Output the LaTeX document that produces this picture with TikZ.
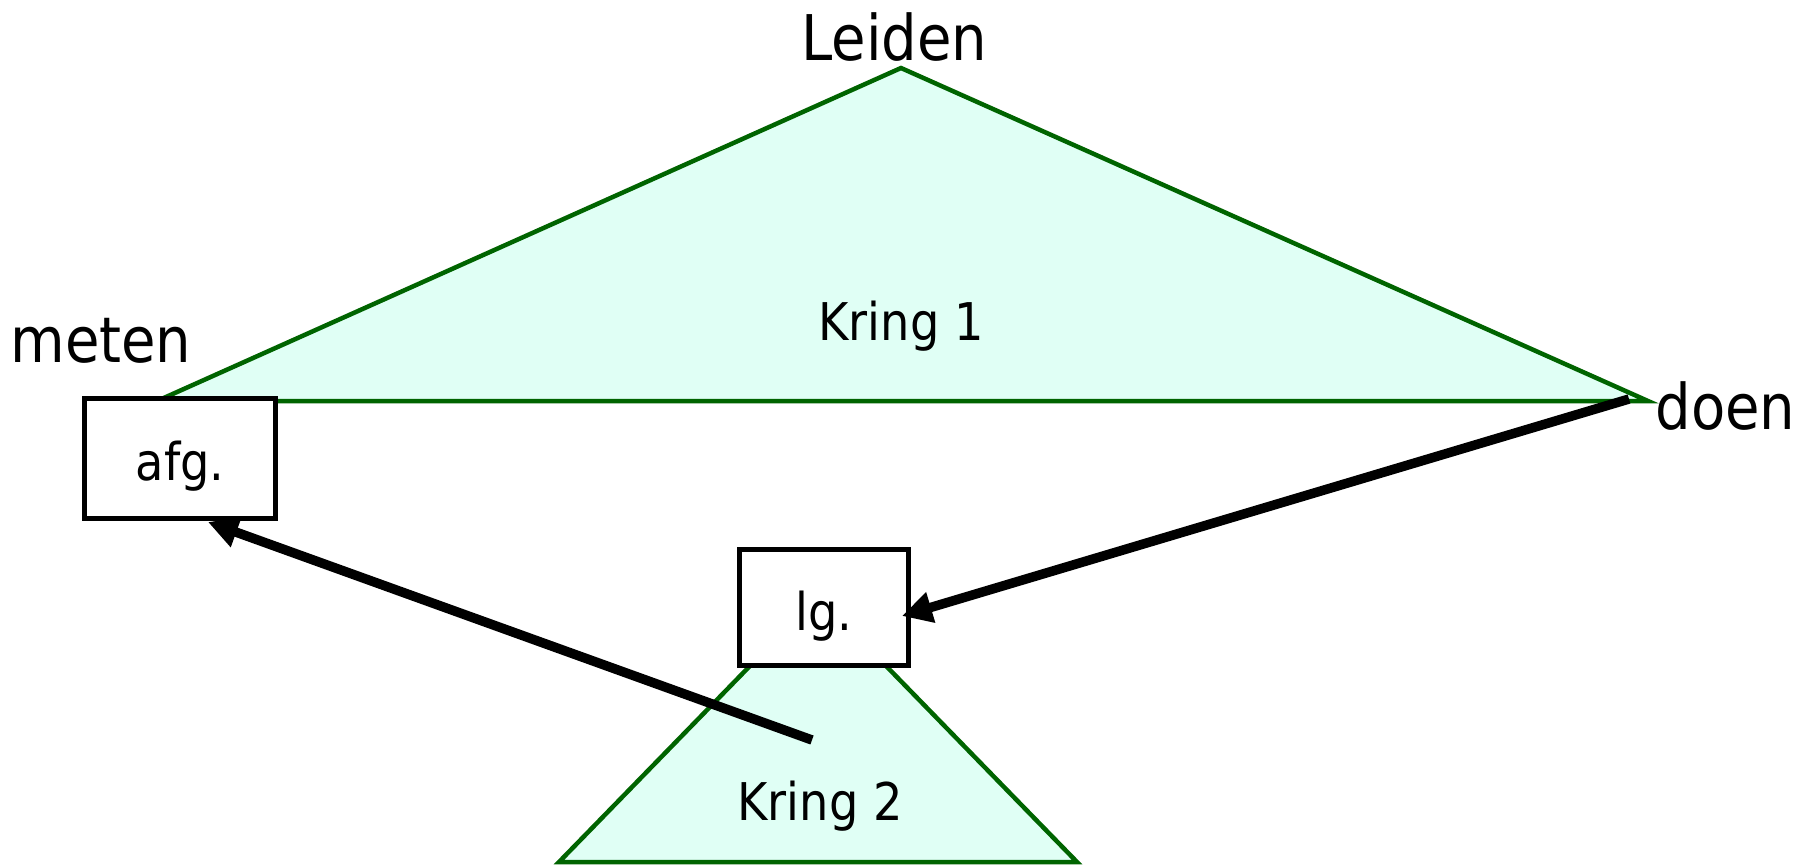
\documentclass[tikz,border=0pt]{standalone}
\usepackage{fontspec}
\setmainfont{DejaVu Sans}[FakeStretch=0.89]
\usetikzlibrary{arrows.meta}
\definecolor{kgreen}{RGB}{0,100,0}
\definecolor{kfill}{RGB}{224,255,245}
\tikzset{
  kring/.style={draw=kgreen, fill=kfill, line width=4.5pt, line join=miter},
  boxnode/.style={draw=black, fill=white, line width=5pt, inner sep=0pt, font=\fontsize{52}{60}\selectfont},
  bigtext/.style={anchor=base, inner sep=0pt, font=\fontsize{63}{70}\selectfont},
  smalltext/.style={anchor=base, inner sep=0pt, font=\fontsize{52}{60}\selectfont},
  flow/.style={line width=9.5pt, -{Triangle[length=30pt,width=30pt]}}
}
\begin{document}
\begin{tikzpicture}[x=1pt,y=-1pt]
\useasboundingbox (0,0) rectangle (1812,865);
% Kring 1
\coordinate (t1a) at (901,68);
\coordinate (t1l) at (157,401);
\coordinate (t1r) at (1648,401);
\draw[kring] (t1a) -- (t1r) -- (t1l) -- cycle;
% Kring 2
\coordinate (t2a) at (818,596);
\coordinate (t2l) at (559,862);
\coordinate (t2r) at (1077,862);
\draw[kring] (t2a) -- (t2r) -- (t2l) -- cycle;
% boxes
\node[boxnode, minimum width=191pt, minimum height=120pt, text height=43pt, text depth=0pt] (afg) at (180,458.5) {afg.};
\node[boxnode, minimum width=169pt, minimum height=116pt, text height=45pt, text depth=0pt] (lg) at (824,607.5) {lg.};
% labels
\node[bigtext] (leiden) at (894.5,60) {Leiden};
\node[bigtext] (meten) at (101,362) {meten};
\node[bigtext] (doen) at (1725.5,429) {doen};
\node[smalltext] (k1) at (901,340) {Kring 1};
\node[smalltext] (k2) at (820,820) {Kring 2};
% arrows
\coordinate (a1s) at (1629,399);
\coordinate (a1e) at (902,616);
\coordinate (a2s) at (812,740);
\coordinate (a2e) at (208,522);
\draw[flow] (a1s) -- (a1e);
\draw[flow] (a2s) -- (a2e);
\end{tikzpicture}
\end{document}
